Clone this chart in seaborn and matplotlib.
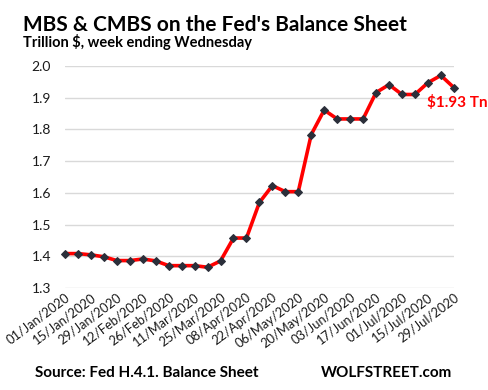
import matplotlib
matplotlib.use("Agg")
import matplotlib.pyplot as plt
import seaborn as sns
import pandas as pd
import numpy as np

weeks = pd.date_range("2020-01-01", "2020-07-29", freq="7D")
values = [1.409, 1.409, 1.405, 1.399, 1.387, 1.387, 1.392, 1.386, 1.371, 1.371,
          1.371, 1.366, 1.386, 1.458, 1.458, 1.570, 1.623, 1.604, 1.604, 1.784,
          1.861, 1.833, 1.833, 1.833, 1.916, 1.941, 1.910, 1.910, 1.947, 1.970,
          1.932]
tick_labels = ["01/Jan/2020", "15/Jan/2020", "29/Jan/2020", "12/Feb/2020",
               "26/Feb/2020", "11/Mar/2020", "25/Mar/2020", "08/Apr/2020",
               "22/Apr/2020", "06/May/2020", "20/May/2020", "03/Jun/2020",
               "17/Jun/2020", "01/Jul/2020", "15/Jul/2020", "29/Jul/2020"]
y_ticks = [1.3, 1.4, 1.5, 1.6, 1.7, 1.8, 1.9, 2.0]
title = "MBS & CMBS on the Fed's Balance Sheet"
subtitle = "Trillion $, week ending Wednesday"
end_label = "$1.93 Tn"

df = pd.DataFrame({"week": weeks, "value": values})

sns.set_theme(style="white")
plt.rcParams["font.family"] = ["Lato", "DejaVu Sans"]

fig = plt.figure(figsize=(4.89, 3.90), dpi=100)
ax = fig.add_axes([0.133, 0.261, 0.795, 0.570])

sns.lineplot(data=df, x="week", y="value", ax=ax, color="#ff0000", linewidth=2.6,
             marker="D", markersize=3.6, markerfacecolor="#2b2f3a",
             markeredgecolor="#2b2f3a")
for ln in ax.lines:
    ln.set_clip_on(False)

ax.set_xlim(weeks[0], weeks[-1])
ax.set_ylim(1.3, 2.0)
ax.set_yticks(y_ticks)
ax.set_yticklabels([f"{v:.1f}" for v in y_ticks], fontsize=10, color="#1a1a1a")
ax.tick_params(axis="y", length=0, pad=10)
ax.tick_params(axis="x", length=0, pad=2)
ax.set_xticks(weeks[::2])
ax.set_xticklabels(tick_labels, rotation=37, ha="right", rotation_mode="anchor",
                   fontsize=9.3, color="#1a1a1a")
ax.yaxis.grid(True, color="#d9d9d9", linewidth=1)
ax.xaxis.grid(False)
for s in ax.spines.values():
    s.set_visible(False)
ax.set_xlabel("")
ax.set_ylabel("")

ax.annotate(end_label, xy=(weeks[-1], values[-1]), xytext=(-19.5, -11),
            textcoords="offset points", color="#ff0000", fontsize=11,
            fontweight="bold", ha="left", va="center")

fig.text(0.047, 0.935, title, fontsize=15, fontweight="bold", color="black",
         ha="left", va="center")
fig.text(0.047, 0.892, subtitle, fontsize=10.5, fontweight="bold", color="black",
         ha="left", va="center")
fig.text(0.072, 0.043, "Source: Fed H.4.1. Balance Sheet", fontsize=11,
         fontweight="bold", color="black", ha="left", va="center")
fig.text(0.925, 0.043, "WOLFSTREET.com", fontsize=11, fontweight="bold",
         color="black", ha="right", va="center")

fig.savefig("out.png", dpi=100)
